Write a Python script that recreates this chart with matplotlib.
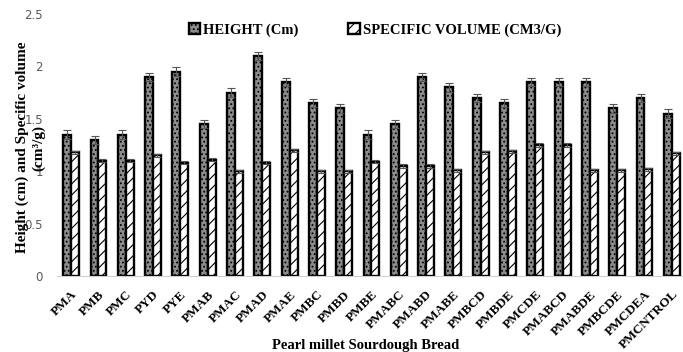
import matplotlib
matplotlib.use("Agg")
import matplotlib.pyplot as plt
import numpy as np

categories = ["PMA", "PMB", "PMC", "PYD", "PYE", "PMAB", "PMAC", "PMAD", "PMAE",
              "PMBC", "PMBD", "PMBE", "PMABC", "PMABD", "PMABE", "PMBCD", "PMBDE",
              "PMCDE", "PMABCD", "PMABDE", "PMBCDE", "PMCDEA", "PMCNTROL"]
height = [1.35, 1.30, 1.35, 1.90, 1.95, 1.45, 1.75, 2.10, 1.85, 1.65, 1.60,
          1.35, 1.45, 1.90, 1.80, 1.70, 1.65, 1.85, 1.85, 1.85, 1.60, 1.70, 1.55]
height_err = [0.04] * len(categories)
spec_vol = [1.18, 1.10, 1.10, 1.15, 1.08, 1.11, 1.00, 1.08, 1.20, 1.00, 1.00,
            1.09, 1.05, 1.05, 1.01, 1.18, 1.19, 1.25, 1.25, 1.01, 1.01, 1.02, 1.17]
spec_err = [0.015] * len(categories)

serif = ["Liberation Serif", "DejaVu Serif"]

fig = plt.figure(figsize=(6.83, 3.52), dpi=100)
n = len(categories)
unit_px = 27.3
left_px = 57
width_px = (n + 0.04) * unit_px
ax = fig.add_axes([left_px / 683, 76 / 352, width_px / 683, 262 / 352])

x = np.arange(n)
w = 0.29
plt.rcParams['hatch.linewidth'] = 0.8
b1 = ax.bar(x - w / 2, height, w, color="#8c8c8c", edgecolor="black", linewidth=1.7,
            hatch="....", label="HEIGHT (Cm)", zorder=2)
b2 = ax.bar(x + w / 2, spec_vol, w, color="white", edgecolor="black", linewidth=1.7,
            hatch="///", label="SPECIFIC VOLUME (CM3/G)", zorder=2)
ax.errorbar(x - w / 2, height, yerr=height_err, fmt="none", ecolor="#555555",
            elinewidth=0.8, capsize=3, capthick=0.8, zorder=3)
ax.errorbar(x + w / 2, spec_vol, yerr=spec_err, fmt="none", ecolor="#555555",
            elinewidth=0.8, capsize=3, capthick=0.8, zorder=3)

ax.set_xlim(-0.52, n - 0.48)
ax.set_ylim(0, 2.5)
ax.set_yticks([0, 0.5, 1, 1.5, 2, 2.5])
ax.set_yticklabels(["0", "0.5", "1", "1.5", "2", "2.5"])
ax.tick_params(axis="y", length=0, colors="#595959", labelsize=8.5, pad=10)
ax.tick_params(axis="x", length=0, pad=9)
ax.set_xticks(x)
ax.set_xticklabels(categories, rotation=45, ha="right", rotation_mode="anchor",
                   fontfamily=serif, fontweight="bold", fontsize=9.5)

for s in ["top", "right", "left"]:
    ax.spines[s].set_visible(False)
ax.spines["bottom"].set_color("#d0d0d0")

ax.set_ylabel("Height (cm) and Specific volume\n(cm³/g)", fontfamily=serif,
              fontweight="bold", fontsize=11, linespacing=1.3)
ax.yaxis.set_label_coords(-0.018, 0.49)
fig.text(366 / 683, 1 - 349 / 352, "Pearl millet Sourdough Bread", fontfamily=serif,
         fontweight="bold", fontsize=10.5, ha="center", va="baseline")

leg = fig.legend(handles=[b1, b2], loc="center", bbox_to_anchor=(375 / 683, 1 - 30 / 352),
                 ncol=2, frameon=False, prop={"family": serif, "weight": "bold", "size": 10.5},
                 handlelength=0.8, handleheight=0.8, handletextpad=0.2, columnspacing=3.4)

fig.savefig("out.png", dpi=100)
